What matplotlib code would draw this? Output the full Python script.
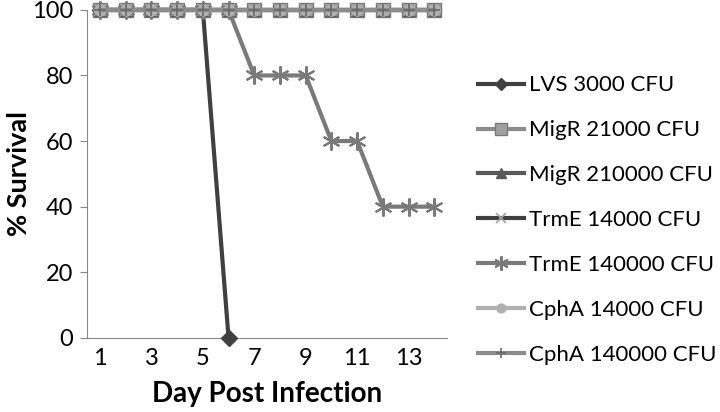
import matplotlib
matplotlib.use('Agg')
import matplotlib.pyplot as plt

plt.rcParams['font.family'] = ['Lato', 'DejaVu Sans']

days = list(range(1, 15))
lvs_days = [1, 2, 3, 4, 5, 6]
lvs_3000 = [100, 100, 100, 100, 100, 0]
migr_21000 = [100] * 14
migr_210000 = [100] * 14
trme_14000 = [100] * 14
trme_140000 = [100, 100, 100, 100, 100, 100, 80, 80, 80, 60, 60, 40, 40, 40]
cpha_14000 = [100] * 14
cpha_140000 = [100] * 14

fig = plt.figure(figsize=[7.2, 4.12], dpi=100)
ax = fig.add_axes([0.121, 0.180, 0.500, 0.796])

lw = 3.0
ax.plot(lvs_days, lvs_3000, '-', color='#404040', lw=lw, marker='D', ms=8,
        mfc='#404040', mec='#404040', label='LVS 3000 CFU', clip_on=False, zorder=3)
ax.plot(days, migr_21000, '-', color='#8c8c8c', lw=lw, marker='s', ms=10,
        mfc='#a0a0a0', mec='#7a7a7a', label='MigR 21000 CFU', clip_on=False, zorder=3)
ax.plot(days, migr_210000, '-', color='#5a5a5a', lw=lw, marker='^', ms=9,
        mfc='#5a5a5a', mec='#5a5a5a', label='MigR 210000 CFU', clip_on=False, zorder=3)
ax.plot(days, trme_14000, '-', color='#404040', lw=lw, marker='x', ms=9, mew=1.2,
        mec='#a0a0a0', label='TrmE 14000 CFU', clip_on=False, zorder=3)
ax.plot(days, trme_140000, '-', color='#7a7a7a', lw=lw, marker=(6, 2, 0), ms=13, mew=1.5,
        mec='#7a7a7a', label='TrmE 140000 CFU', clip_on=False, zorder=3)
ax.plot(days, cpha_14000, '-', color='#b0b0b0', lw=lw, marker='o', ms=8,
        mfc='#b0b0b0', mec='#b0b0b0', label='CphA 14000 CFU', clip_on=False, zorder=3)
ax.plot(days, cpha_140000, '-', color='#8c8c8c', lw=lw, marker='+', ms=9, mew=1.2,
        mec='#6a6a6a', label='CphA 140000 CFU', clip_on=False, zorder=3)

ax.set_xlim(0.5, 14.5)
ax.set_ylim(0, 100)
ax.set_xticks([1, 3, 5, 7, 9, 11, 13])
ax.set_yticks([0, 20, 40, 60, 80, 100])
ax.tick_params(axis='x', length=0, labelsize=17, pad=7)
ax.tick_params(axis='y', length=5, color='#888888', labelsize=17, pad=5)
for s in ['top', 'right']:
    ax.spines[s].set_visible(False)
ax.spines['left'].set_color('#888888')
ax.spines['bottom'].set_color('#888888')

ax.set_xlabel('Day Post Infection', fontsize=20, fontweight='bold', labelpad=9)
ax.set_ylabel('% Survival', fontsize=19.5, fontweight='bold', labelpad=1)

leg = ax.legend(loc='upper left', bbox_to_anchor=(1.086, 0.80), frameon=False,
                fontsize=16, handlelength=2.05, handletextpad=0.22, labelspacing=1.12,
                borderaxespad=0, borderpad=0, markerscale=0.8)

fig.savefig('out.png', dpi=100)
